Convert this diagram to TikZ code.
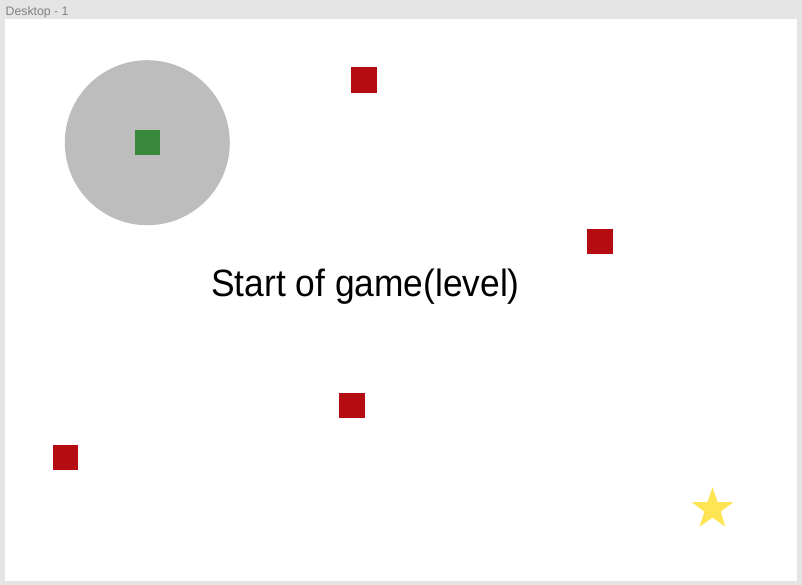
\documentclass[tikz,border=0pt]{standalone}
\usepackage{fontspec}
\setmainfont{Liberation Sans}
\usetikzlibrary{calc}
\definecolor{framegray}{RGB}{229,229,229}
\definecolor{labelgray}{RGB}{128,128,128}
\definecolor{circlegray}{RGB}{189,189,189}
\definecolor{playergreen}{RGB}{56,136,60}
\definecolor{enemyred}{RGB}{180,12,16}
\definecolor{staryellow}{RGB}{255,228,84}
\begin{document}
\begin{tikzpicture}[x=1pt,y=-1pt,
  enemy/.style={fill=enemyred},
  player/.style={fill=playergreen}]
\useasboundingbox (0,0) rectangle (802,585);
\fill[framegray] (0,0) rectangle (802,585);
\fill[white] (5,19) rectangle (796.5,581);
\node[anchor=base west, text=labelgray, font=\fontsize{12.3}{14}\selectfont, inner sep=0] (title) at (5.5,15.3) {Desktop - 1};
% circle with player
\fill[circlegray] (147.3,142.7) circle[radius=82.5];
\fill[player] (135,130.3) rectangle (160.3,155.3);
% enemies
\fill[enemy] (351.3,67.5) rectangle (376.7,93.2);
\fill[enemy] (587.3,228.7) rectangle (612.7,254);
\fill[enemy] (339,392.7) rectangle (364.7,418.3);
\fill[enemy] (52.8,444.7) rectangle (77.8,470.3);
% star
\coordinate (starc) at (712.5,509);
\fill[staryellow] ($(starc)+(-90:21.8)$)
  \foreach \i in {1,...,9} {
    -- ($(starc)+(-90+36*\i:{ifthenelse(mod(\i,2)==0,21.8,8.6)})$)
  } -- cycle;
% title text
\node[anchor=base, inner sep=0, font=\fontsize{38}{46}\selectfont] (caption) at (365.5,296.7) {\scalebox{0.93}[1]{Start of game(level)}};
\end{tikzpicture}
\end{document}
